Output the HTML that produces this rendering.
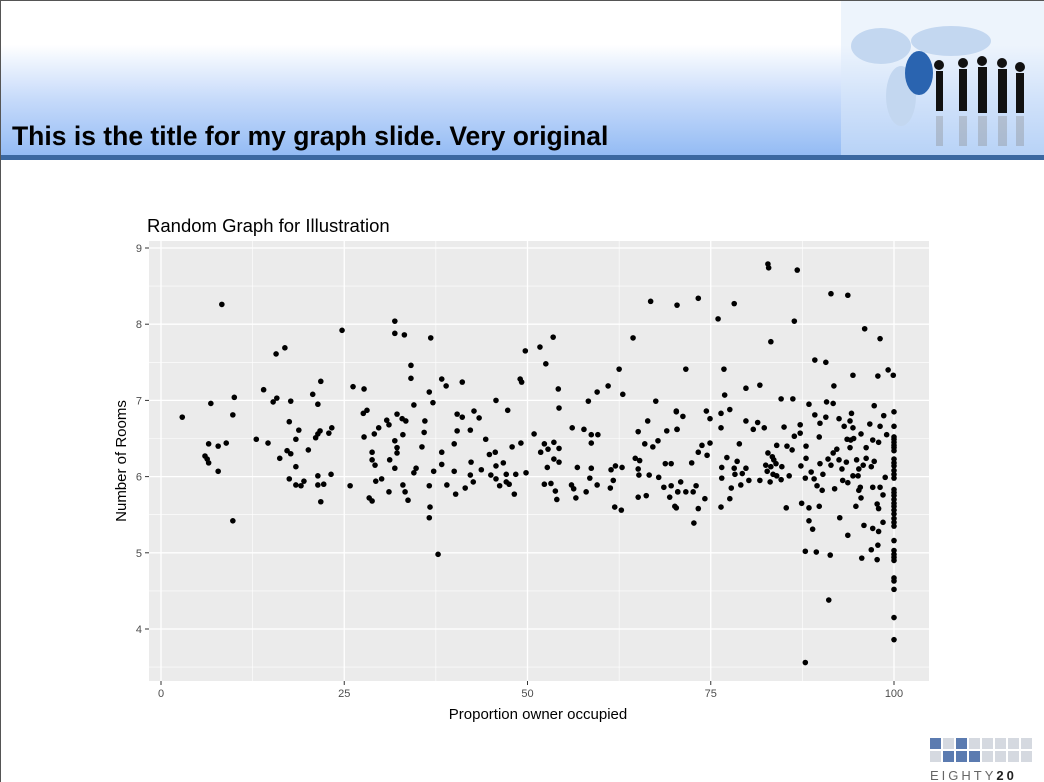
<!DOCTYPE html>
<html><head><meta charset="utf-8">
<style>
html,body{margin:0;padding:0;background:#fff;}
#slide{position:relative;width:1044px;height:782px;overflow:hidden;font-family:"Liberation Sans",Arial,sans-serif;background:#fff;border-left:1px solid #555;border-top:1px solid #555;box-sizing:border-box;}
#header{position:absolute;left:0;top:0;width:1044px;height:155px;background:linear-gradient(to bottom,#ffffff 0%,#ffffff 28%,#c4d9fa 65%,#93bbf4 100%);}
#bar{position:absolute;left:0;top:154px;width:1044px;height:5px;background:#3b68a0;}
#title{position:absolute;left:11px;top:120px;font-size:26.5px;font-weight:bold;color:#000;}
</style></head><body>
<div id="slide">
<div id="header"></div>
<svg style="position:absolute;left:840px;top:0" width="204" height="155">
 <rect x="0" y="0" width="204" height="155" fill="#dce9fa" opacity="0.5"/>
 <ellipse cx="40" cy="45" rx="30" ry="18" fill="#c3d7f0"/>
 <ellipse cx="60" cy="95" rx="15" ry="30" fill="#c3d7f0"/>
 <ellipse cx="110" cy="40" rx="40" ry="15" fill="#c3d7f0"/>
 <ellipse cx="78" cy="72" rx="14" ry="22" fill="#2a64b0"/>
 <g fill="#111">
  <rect x="95" y="70" width="7" height="40"/><circle cx="98" cy="64" r="5"/>
  <rect x="118" y="68" width="8" height="42"/><circle cx="122" cy="62" r="5"/>
  <rect x="137" y="66" width="9" height="46"/><circle cx="141" cy="60" r="5"/>
  <rect x="157" y="68" width="9" height="44"/><circle cx="161" cy="62" r="5"/>
  <rect x="175" y="72" width="8" height="40"/><circle cx="179" cy="66" r="5"/>
 </g>
 <g fill="#888" opacity="0.35">
  <rect x="95" y="115" width="7" height="30"/><rect x="118" y="115" width="8" height="30"/><rect x="137" y="115" width="9" height="30"/><rect x="157" y="115" width="9" height="30"/><rect x="175" y="115" width="8" height="30"/>
 </g>
</svg>
<div id="bar"></div>
<div id="title">This is the title for my graph slide. Very original</div>

<svg id="chart" style="position:absolute;left:0;top:0" width="1044" height="782">
 <text x="146" y="231" font-size="18.5" fill="#000">Random Graph for Illustration</text>
 <rect x="148" y="240" width="780" height="440" fill="#ebebeb"/>
 <g id="grid"></g>
 <g id="ticks"></g>
 <g id="pts"></g>
 <text x="537" y="718" font-size="15" text-anchor="middle">Proportion owner occupied</text>
 <text x="0" y="0" font-size="15" text-anchor="middle" transform="translate(125,460) rotate(-90)">Number of Rooms</text>
</svg>

<svg style="position:absolute;left:925px;top:735px" width="110" height="45">
 <g id="logo"></g>
 <text x="4" y="44" font-size="13" letter-spacing="3" fill="#666">EIGHTY<tspan font-weight="bold" fill="#222">20</tspan></text>
</svg>
</div>
<script>
const xTicks=[0,25,50,75,100];
const yTicks=[4,5,6,7,8,9];
const ages=[8.3,2.9,6.8,10,9.8,6.5,7.8,8.9,6.0,6.3,6.5,7.8,9.8,15.7,16.9,14.0,15.3,15.8,17.7,17.5,18.8,18.4,13.0,14.6,17.2,17.7,16.2,20.1,18.4,17.5,18.4,19.1,19.5,20.7,21.8,21.4,21.1,21.4,21.7,22.9,23.3,21.4,21.4,22.2,23.2,21.8,24.7,25.8,26.2,27.7,27.6,28.1,27.7,29.1,29.7,30.8,31.1,28.8,28.8,29.2,29.3,30.1,28.4,28.8,31.1,31.9,31.9,33.2,34.1,34.1,34.5,32.2,32.9,33.4,33.0,31.9,32.2,32.2,31.2,31.9,33.0,33.3,33.7,34.8,34.5,
36.8,36.6,37.1,36.0,35.9,35.6,36.6,36.7,36.6,37.8,37.2,38.3,38.9,41.1,38.3,38.3,39.0,40.0,40.4,40.4,41.1,42.2,40.0,40.2,41.5,42.6,42.2,42.3,42.7,43.4,43.7,44.3,44.8,45.6,45.0,45.7,45.7,45.7,46.7,46.2,47.1,47.1,47.5,47.3,47.9,48.2,48.4,49.1,49.0,49.2,49.7,49.8,50.9,51.7,52.5,53.5,54.2,54.3,52.3,51.8,52.8,53.6,54.3,53.6,54.3,52.7,52.3,53.2,53.8,54.0,56.1,56.8,56.0,56.3,56.6,58.0,57.7,58.7,59.6,58.7,58.3,59.5,58.5,58.7,59.5,61.0,62.5,63.0,61.4,62.0,62.9,61.3,61.7,61.9,62.8,64.4,66.8,70.4,64.7,65.3,65.1,65.2,65.1,66.4,67.5,66.0,67.1,67.8,66.6,65.1,66.2,67.9,68.8,69.6,68.6,69.6,69.4,70.5,70.1,70.3,70.4,69.0,
73.3,78.2,76.0,82.8,82.9,86.8,86.4,83.2,91.4,93.7,96.0,98.1,71.6,76.8,76.9,79.8,81.7,84.6,86.2,89.2,90.7,91.8,94.4,97.8,99.2,99.9,88.4,90.8,91.7,97.3,70.3,71.2,70.4,74.4,74.9,76.4,76.4,77.6,79.8,80.8,81.4,82.3,85.0,87.2,87.2,86.4,89.2,89.9,90.7,92.5,93.2,94.2,94.0,94.4,95.5,96.7,98.1,98.6,99.0,89.8,88.0,72.4,73.3,73.8,74.5,74.9,78.9,77.2,78.6,76.5,78.2,78.3,79.3,79.8,80.2,79.1,77.8,76.5,77.6,76.4,74.2,73.3,72.7,73.0,72.6,71.6,70.5,70.9,70.3,
81.7,82.7,82.5,82.8,83.4,83.6,83.2,83.9,83.5,83.1,84.0,84.6,84.7,84.0,85.4,86.1,85.7,85.3,87.3,88.0,87.9,88.7,89.1,89.5,90.2,90.3,89.9,91.0,91.4,91.7,92.2,92.5,93.5,92.9,93.0,91.9,93.7,94.4,95.1,95.4,95.2,95.5,94.8,97.1,98.1,98.5,98.8,97.7,97.9,98.5,97.1,97.9,95.9,93.7,92.6,88.4,88.4,88.9,89.8,87.4,87.9,89.4,91.3,95.6,96.9,97.8,97.7,91.1,87.9,94.5,96.2,97.3,97.1,97.9,95.8,96.9,96.2,94.9,95.2,94.0,94.1,93.6,
100,100,100,100,100,100,100,100,100,100,100,100,100,100,100,100,100,100,100,100,100,100,100,100,100,100,100,100,100,100,100,100,100,100,100];
const rooms=[8.26,6.78,6.96,7.04,6.81,6.43,6.40,6.44,6.27,6.23,6.18,6.07,5.42,7.61,7.69,7.14,6.98,7.03,6.99,6.72,6.61,6.49,6.49,6.44,6.34,6.30,6.24,6.35,6.13,5.97,5.89,5.88,5.94,7.08,7.25,6.95,6.51,6.56,6.60,6.57,6.64,6.01,5.89,5.90,6.03,5.67,7.92,5.88,7.18,7.15,6.83,6.87,6.52,6.56,6.64,6.74,6.68,6.32,6.22,6.15,5.94,5.97,5.72,5.68,5.80,8.04,7.88,7.86,7.46,7.29,6.94,6.82,6.76,6.73,6.55,6.47,6.38,6.31,6.22,6.11,5.89,5.80,5.69,6.11,6.05,
7.82,7.11,6.97,6.73,6.58,6.39,5.88,5.60,5.46,4.98,6.07,7.28,7.19,7.24,6.32,6.16,5.89,6.43,6.60,6.82,6.78,6.61,6.07,5.77,5.85,5.93,6.02,6.19,6.86,6.77,6.09,6.49,6.29,6.32,6.02,5.97,6.14,7.00,6.18,5.88,6.03,5.93,5.90,6.87,6.39,5.77,6.03,6.44,7.28,7.24,7.65,6.05,6.56,7.70,7.48,7.83,7.15,6.90,6.43,6.32,6.36,6.45,6.37,6.23,6.19,6.12,5.90,5.91,5.81,5.70,6.64,6.12,5.89,5.84,5.72,5.80,6.62,6.55,6.55,6.44,6.99,7.11,5.98,6.11,5.89,7.19,7.41,7.08,6.09,6.14,6.12,5.85,5.95,5.60,5.56,7.82,8.30,8.25,6.24,6.21,6.10,6.02,6.59,6.73,6.99,6.43,6.39,6.47,6.02,5.73,5.75,5.99,6.17,6.17,5.86,5.88,5.73,5.80,5.61,6.86,6.62,6.60,
8.34,8.27,8.07,8.79,8.74,8.71,8.04,7.77,8.40,8.38,7.94,7.81,7.41,7.41,7.07,7.16,7.20,7.02,7.02,7.53,7.50,7.19,7.33,7.32,7.40,7.33,6.95,6.98,6.96,6.93,6.85,6.79,6.62,6.86,6.76,6.83,6.64,6.88,6.73,6.62,6.71,6.64,6.65,6.68,6.57,6.53,6.81,6.70,6.78,6.76,6.66,6.83,6.73,6.64,6.56,6.69,6.66,6.80,6.55,6.52,6.40,6.18,6.32,6.41,6.28,6.44,6.43,6.25,6.20,6.12,6.11,6.03,6.04,6.11,5.95,5.89,5.85,5.98,5.71,5.60,5.71,5.58,5.39,5.88,5.80,5.80,5.80,5.93,5.59,
5.95,6.07,6.15,6.31,6.26,6.22,6.13,6.17,6.03,5.93,6.01,5.96,6.13,6.41,6.40,6.35,6.01,5.59,6.14,6.24,5.98,6.06,5.97,5.88,5.82,6.03,6.17,6.23,6.15,6.31,6.36,6.22,6.19,6.10,5.95,5.84,5.92,6.01,6.01,5.86,5.82,5.72,5.61,5.86,5.86,5.76,5.99,5.64,5.58,5.40,5.32,5.28,5.36,5.23,5.46,5.59,5.42,5.31,5.61,5.65,5.02,5.01,4.97,4.93,5.04,5.10,4.91,4.38,3.56,6.50,6.38,6.20,6.48,6.45,6.15,6.13,6.24,6.22,6.10,6.38,6.48,6.49,
6.85,6.66,6.52,6.49,6.45,6.41,6.38,6.34,6.23,6.18,6.14,6.08,6.03,5.98,5.83,5.79,5.75,5.70,5.65,5.61,5.56,5.51,5.45,5.40,5.35,5.16,5.03,4.98,4.94,4.90,4.67,4.63,4.52,4.15,3.86];

const NS='http://www.w3.org/2000/svg';
const X0=160,X1=893,Y9=247,Y4=628;
function sx(v){return X0+(v-0)*(X1-X0)/100;}
function sy(v){return Y4-(v-4)*(Y4-Y9)/5;}
function mk(tag,attrs,parent){const e=document.createElementNS(NS,tag);for(const k in attrs)e.setAttribute(k,attrs[k]);parent.appendChild(e);return e;}
const grid=document.getElementById('grid'),ticks=document.getElementById('ticks'),pts=document.getElementById('pts');
for(let i=0;i<xTicks.length-1;i++){const v=(xTicks[i]+xTicks[i+1])/2;
 const l=mk('line',{x1:sx(v),x2:sx(v),y1:240,y2:680,stroke:'#fff','stroke-width':0.6},grid);
 
 }
for(let i=0;i<yTicks.length-1;i++){const v=(yTicks[i]+yTicks[i+1])/2;
 const l=mk('line',{x1:148,x2:928,y1:sy(v),y2:sy(v),stroke:'#fff','stroke-width':0.6},grid);
 
 }
{const l=mk('line',{x1:148,x2:928,y1:sy(3.5),y2:sy(3.5),stroke:'#fff','stroke-width':0.6},grid);
 
 }
xTicks.forEach(v=>{
 const l=mk('line',{x1:sx(v),x2:sx(v),y1:240,y2:680,stroke:'#fff','stroke-width':1.3},grid);
 
 
 mk('line',{x1:sx(v),x2:sx(v),y1:680,y2:684,stroke:'#333','stroke-width':1},ticks);
 const t=mk('text',{x:sx(v),y:696,'font-size':11,fill:'#4d4d4d','text-anchor':'middle'},ticks);t.textContent=v;
 
 
});
yTicks.forEach(v=>{
 const l=mk('line',{x1:148,x2:928,y1:sy(v),y2:sy(v),stroke:'#fff','stroke-width':1.3},grid);
 
 
 mk('line',{x1:144,x2:148,y1:sy(v),y2:sy(v),stroke:'#333','stroke-width':1},ticks);
 const t=mk('text',{x:141,y:sy(v)+4,'font-size':11,fill:'#4d4d4d','text-anchor':'end'},ticks);t.textContent=v;
 
 
});
const n=Math.min(ages.length,rooms.length);
for(let i=0;i<n;i++){
 const c=mk('circle',{cx:sx(ages[i]),cy:sy(rooms[i]),r:2.8,fill:'#000'},pts);
 
 
}
const logo=document.getElementById('logo');
const dark=[[0,0],[2,0],[1,1],[3,1],[2,1]];
for(let r=0;r<2;r++)for(let c=0;c<8;c++){
 const d=dark.some(p=>p[0]===c&&p[1]===r);
 mk('rect',{x:4+c*13,y:2+r*13,width:11,height:11,fill:d?'#5b7bb0':'#d5d9e0'},logo);
}
</script>
</body></html>
